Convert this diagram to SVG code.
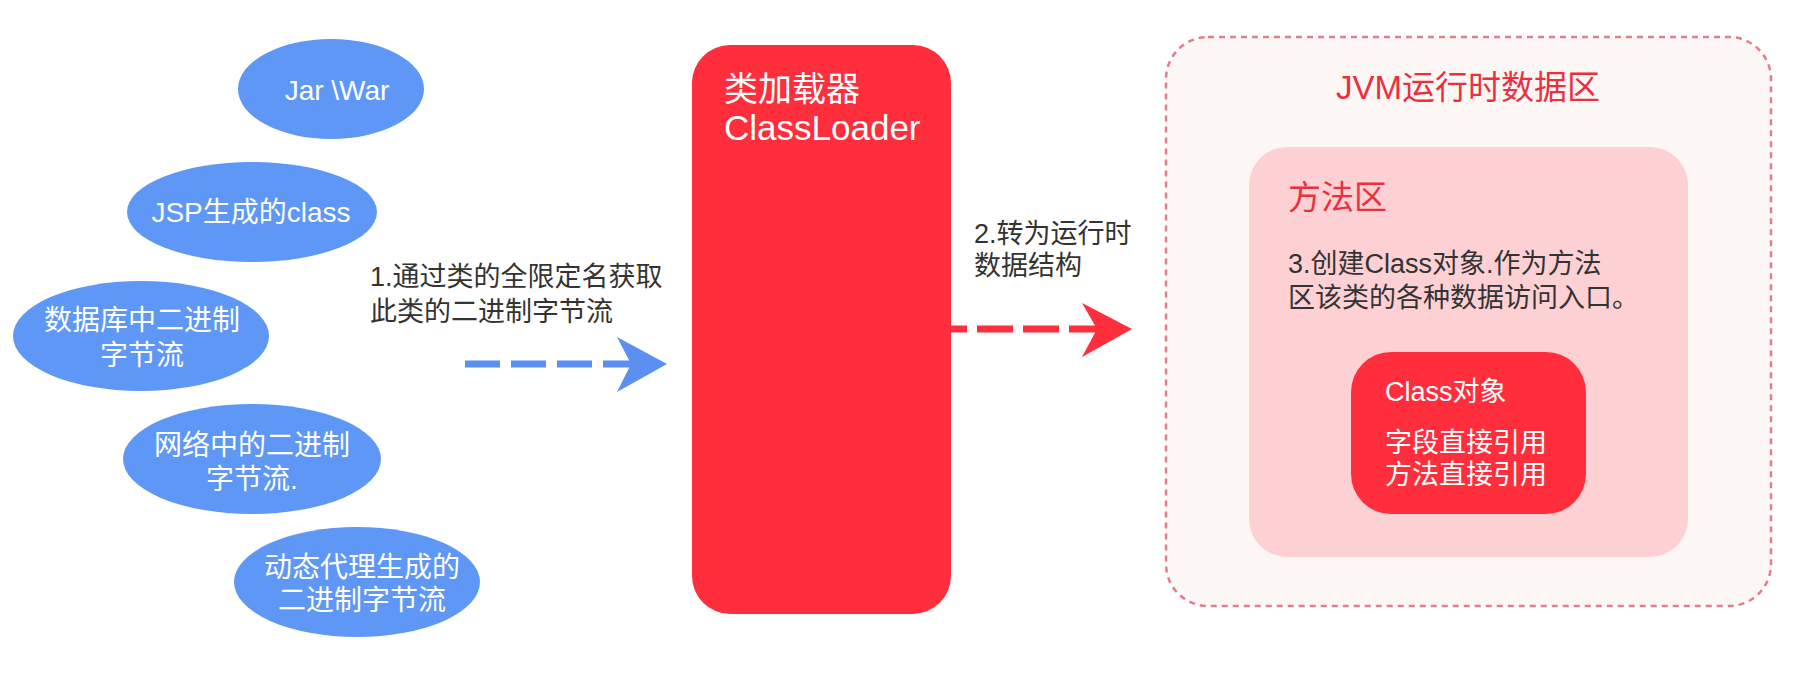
<svg xmlns="http://www.w3.org/2000/svg" width="1798" height="700" viewBox="0 0 1798 700">
<style>
  text { font-family: "Liberation Sans", "Noto Sans CJK SC", sans-serif; }
  .src { fill: #5E97F6; }
  .srct { fill: #ffffff; font-size: 28px; text-anchor: middle; }
  .lbl { fill: #333333; font-size: 27px; }
  .red { fill: #FE2E3D; }
  .wt { fill: #ffffff; }
  .title { fill: #E8303F; }
</style>
<rect width="1798" height="700" fill="#ffffff"/>

<g id="jvm-area">
  <rect x="1166" y="37" width="605" height="569" rx="42" fill="#FCF7F5" stroke="#E07F8B" stroke-width="2.5" stroke-dasharray="6 5"/>
  <text class="title" x="1468" y="99" font-size="33" text-anchor="middle">JVM运行时数据区</text>
</g>

<g id="method-area">
  <rect x="1249" y="147" width="439" height="410" rx="38" fill="#FDD1D3"/>
  <text class="title" x="1288" y="209" font-size="33">方法区</text>
  <text class="lbl" x="1288" y="273">3.创建Class对象.作为方法</text>
  <text class="lbl" x="1288" y="307">区该类的各种数据访问入口。</text>
</g>

<g id="class-object">
  <rect class="red" x="1351" y="352" width="235" height="162" rx="40"/>
  <text class="wt" x="1385" y="401" font-size="27">Class对象</text>
  <text class="wt" x="1385" y="452" font-size="27">字段直接引用</text>
  <text class="wt" x="1385" y="484" font-size="27">方法直接引用</text>
</g>

<g id="classloader">
  <rect class="red" x="692" y="45" width="259" height="569" rx="38"/>
  <text class="wt" x="724" y="101" font-size="34">类加载器</text>
  <text class="wt" x="724" y="140" font-size="35">ClassLoader</text>
</g>

<g id="src-jar">
  <ellipse class="src" cx="331" cy="89" rx="93" ry="50"/>
  <text class="srct" x="337" y="100" font-size="30">Jar \War</text>
</g>
<g id="src-jsp">
  <ellipse class="src" cx="252" cy="212" rx="125" ry="50"/>
  <text class="srct" x="251" y="222">JSP生成的class</text>
</g>
<g id="src-db">
  <ellipse class="src" cx="141" cy="336" rx="128" ry="55"/>
  <text class="srct" x="142" y="330">数据库中二进制</text>
  <text class="srct" x="142" y="365">字节流</text>
</g>
<g id="src-net">
  <ellipse class="src" cx="252" cy="459" rx="129" ry="55"/>
  <text class="srct" x="252" y="455">网络中的二进制</text>
  <text class="srct" x="252" y="489">字节流.</text>
</g>
<g id="src-proxy">
  <ellipse class="src" cx="357" cy="582" rx="123" ry="55"/>
  <text class="srct" x="362" y="577">动态代理生成的</text>
  <text class="srct" x="362" y="610">二进制字节流</text>
</g>

<g id="labels">
  <text class="lbl" x="370" y="286">1.通过类的全限定名获取</text>
  <text class="lbl" x="370" y="321">此类的二进制字节流</text>
  <text class="lbl" x="974" y="243">2.转为运行时</text>
  <text class="lbl" x="974" y="275">数据结构</text>
</g>

<g id="connectors">
  <line x1="465" y1="364" x2="632" y2="364" stroke="#5B8FF0" stroke-width="7" stroke-dasharray="35 11"/>
  <polygon points="617,337 667,364 617,392 631,364" fill="#5B8FF0"/>
  <line x1="951" y1="329" x2="1098" y2="329" stroke="#FE2E3D" stroke-width="7" stroke-dasharray="36 10" stroke-dashoffset="20"/>
  <polygon points="1082,303 1132,329 1082,357 1097,329" fill="#FE2E3D"/>
</g>
</svg>
